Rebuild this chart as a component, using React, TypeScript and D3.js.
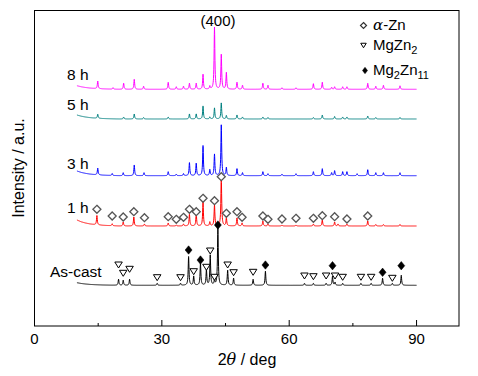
import React from "react";
import * as d3 from "d3";

// ---- data (2θ in deg, intensities in arbitrary units) ----
const seriesNames = ["As-cast", "1 h", "3 h", "5 h", "8 h"];
const seriesColors = ["#000000", "#ff0000", "#0000ff", "#008080", "#ff00ff"];
const seriesOffsets = [40.7, 100, 150.3, 207, 236.7];
const seriesBgStart = [2.6, 6, 4.7, 4, 3.6];

const bgAngles = [10, 11, 12, 13, 14, 16, 18, 20, 90];
const bgFactors = [1, 0.7, 0.5, 0.35, 0.25, 0.12, 0.05, 0, 0];

const peaksAsCast: [number, number][] = [
  [19.8, 6], [20.9, 5], [22.4, 6], [28.9, 2], [34.4, 2], [36.3, 28.6], [37.5, 9],
  [39.1, 22], [40.5, 15], [41.4, 30], [42.4, 5], [43.2, 57], [45.5, 15], [46.9, 7],
  [51.5, 6], [54.4, 14], [63.6, 2], [65.7, 2], [68.7, 2], [70.2, 9], [70.8, 3],
  [72.6, 2], [76.9, 2], [79.3, 2], [82.0, 7], [84.3, 2], [86.4, 10],
];
const peaks1h: [number, number][] = [
  [14.7, 9.3], [18.3, 2], [20.9, 4], [23.4, 9], [25.9, 2], [31.5, 3], [33.4, 1],
  [35.1, 2], [36.5, 11.7], [38.1, 12], [39.7, 23.7], [41.3, 4], [42.4, 21], [44.0, 49],
  [45.2, 8], [47.7, 8], [48.9, 3], [53.8, 5], [55.0, 2], [58.3, 1], [61.6, 1],
  [65.7, 2], [67.8, 6], [70.7, 4], [71.5, 2], [73.6, 2], [78.5, 5], [80.4, 1.5],
  [82.2, 1.5], [86.1, 1.5],
];
const peaks3h: [number, number][] = [
  [14.9, 6.7], [18.3, 2], [20.9, 3], [23.5, 10.7], [25.8, 3], [31.5, 4], [33.4, 1.5],
  [35.1, 2], [36.5, 13], [38.1, 12.4], [39.7, 30], [41.3, 6], [42.4, 21.4], [44.0, 50.7],
  [45.2, 8], [47.7, 7], [49.0, 3], [53.8, 4], [55.0, 2], [58.3, 1.5], [61.6, 2],
  [65.7, 4], [67.8, 7], [70.0, 3], [70.7, 5], [72.6, 4], [73.6, 4], [76.0, 2],
  [78.5, 6], [80.4, 3], [82.2, 3], [86.1, 3],
];
const peaks5h: [number, number][] = [
  [14.9, 4], [21.0, 2], [23.5, 5], [25.7, 1.5], [31.5, 2], [36.5, 5], [38.1, 5],
  [39.7, 13], [41.3, 2], [42.4, 11], [44.0, 16], [45.2, 3.5], [47.7, 4], [49.0, 2],
  [53.8, 2], [55.0, 1.5], [65.7, 1.5], [67.8, 4], [70.7, 2.5], [72.6, 2], [73.6, 2],
  [78.5, 3], [80.4, 1.5], [86.1, 1.5],
];
const peaks8h: [number, number][] = [
  [14.9, 7.6], [18.5, 1.5], [21.0, 6], [23.5, 10], [25.7, 3], [31.5, 7], [33.4, 2.5],
  [35.1, 3], [36.5, 6], [38.1, 6], [39.7, 15], [41.3, 3], [42.4, 62], [44.0, 34.6],
  [45.2, 16.6], [47.7, 7], [49.0, 4], [53.8, 6], [55.0, 4], [58.3, 1.5], [61.6, 1.5],
  [65.7, 5.6], [67.8, 7], [70.0, 2], [70.7, 2.5], [72.6, 2.5], [73.6, 2.5], [78.5, 6],
  [80.4, 3], [82.2, 4], [86.1, 3.5],
];
const seriesPeaks = [peaksAsCast, peaks1h, peaks3h, peaks5h, peaks8h];

// phase markers: [2θ, height above the series baseline]
const alphaZn1h: [number, number][] = [
  [14.7, 16.7], [18.3, 10], [20.9, 9], [23.4, 14.3], [25.9, 8.3], [31.5, 9.3],
  [33.4, 6.7], [35.1, 8.7], [36.5, 16.7], [38.1, 14.3], [39.7, 27.7], [42.4, 25.3],
  [44.0, 49.3], [45.2, 12.7], [47.7, 14.3], [48.9, 8.7], [53.8, 10], [55.0, 6.7],
  [58.3, 7], [61.6, 7.7], [65.7, 7.7], [67.8, 10.3], [70.7, 9.3], [73.6, 7], [78.5, 10],
];
const mgZn2AsCast: [number, number][] = [
  [19.8, 20.3], [20.9, 12], [22.4, 16], [28.9, 7.6], [34.4, 7.6], [37.5, 13.6],
  [40.5, 18], [41.4, 34.3], [42.4, 8], [45.5, 20.3], [46.9, 12.6], [51.5, 13],
  [63.6, 9.3], [65.7, 8.6], [68.7, 9.3], [70.8, 9.3], [72.6, 8], [76.9, 8], [79.3, 8], [84.3, 7],
];
const mg2Zn11AsCast: [number, number][] = [
  [36.3, 35.3], [39.1, 25.3], [43.2, 60.3], [54.4, 20.3], [70.2, 19.6], [82.0, 13], [86.4, 19.6],
];

const xMajorTicks = [0, 30, 60, 90];
const xMinorTicks = [15, 45, 75];
const xDomain = [0, 100];
const scanRange = [10, 90];

const FONT = "Arial, 'Liberation Sans', Helvetica, sans-serif";

const xScale = d3.scaleLinear().domain(xDomain).range([34.5, 459]);
const yScale = d3.scaleLinear().domain([0, 316]).range([326, 10]);
const bgScale = d3.scaleLinear().domain(bgAngles).range(bgFactors).clamp(true);

const HW = 0.11;

function buildSeries(peaks: [number, number][], offset: number, bg: number) {
  const xs: number[] = d3.range(scanRange[0], scanRange[1] + 1e-9, 0.04);
  peaks.forEach(([p]) => xs.push(p));
  xs.sort((a, b) => a - b);
  return xs.map((x) => {
    let v = offset + bg * bgScale(x);
    for (const [p, h] of peaks) {
      const t = (x - p) / HW;
      v += h / (1 + t * t);
    }
    return [x, v] as [number, number];
  });
}

const line = d3
  .line<[number, number]>()
  .x((d) => xScale(d[0]))
  .y((d) => yScale(d[1]));

function diamond(cx: number, cy: number, rx: number, ry: number) {
  return `M${cx},${cy - ry}L${cx + rx},${cy}L${cx},${cy + ry}L${cx - rx},${cy}Z`;
}
function triDown(cx: number, cy: number, w: number, h: number) {
  return `M${cx - w / 2},${cy - h / 2}L${cx + w / 2},${cy - h / 2}L${cx},${cy + h / 2}Z`;
}

const labelPos: [number, number][] = [
  [50, 277],
  [67, 213],
  [67, 168.5],
  [67, 110],
  [67, 80],
];

export default function App() {
  const data = seriesPeaks.map((pk, i) => buildSeries(pk, seriesOffsets[i], seriesBgStart[i]));
  const drawOrder = [0, 2, 1, 3, 4];
  return (
    <svg width={478} height={376} style={{ position: "absolute", left: 0, top: 0, background: "#fff" }}>
      <rect x={0} y={0} width={478} height={376} fill="#fff" />
      {drawOrder.map((i) => (
        <path key={i} d={line(data[i]) || ""} fill="none" stroke={seriesColors[i]} strokeWidth={1} strokeLinejoin="round" />
      ))}
      {/* frame */}
      <rect x={34.5} y={10.5} width={424.5} height={315.5} fill="none" stroke="#000" strokeWidth={1} />
      {xMajorTicks.map((t) => (
        <g key={"M" + t}>
          <line x1={xScale(t)} x2={xScale(t)} y1={326} y2={320} stroke="#000" />
          <text x={xScale(t)} y={344} textAnchor="middle" fontFamily={FONT} fontSize={15}>
            {t}
          </text>
        </g>
      ))}
      {xMinorTicks.map((t) => (
        <line key={"m" + t} x1={xScale(t)} x2={xScale(t)} y1={326} y2={323} stroke="#000" />
      ))}
      {/* markers */}
      {alphaZn1h.map(([a, h], k) => (
        <path key={"a" + k} d={diamond(xScale(a), yScale(seriesOffsets[1] + h), 4, 4)} fill="#fff" stroke="#555" strokeWidth={1.3} />
      ))}
      {mgZn2AsCast.map(([a, h], k) => (
        <path key={"t" + k} d={triDown(xScale(a), yScale(seriesOffsets[0] + h), 7.5, 6)} fill="#fff" stroke="#000" strokeWidth={1} />
      ))}
      {mg2Zn11AsCast.map(([a, h], k) => (
        <path key={"d" + k} d={diamond(xScale(a), yScale(seriesOffsets[0] + h), 3.5, 4.2)} fill="#000" stroke="#000" strokeWidth={0.5} />
      ))}
      {/* series labels */}
      {seriesNames.map((n, i) => (
        <text key={n} x={labelPos[i][0]} y={labelPos[i][1]} fontFamily={FONT} fontSize={15.5} fill="#000">
          {n}
        </text>
      ))}
      <text x={218} y={26} textAnchor="middle" fontFamily={FONT} fontSize={15}>
        (400)
      </text>
      {/* legend */}
      <path d={diamond(363.5, 25.5, 3, 3)} fill="#fff" stroke="#333" strokeWidth={1.2} />
      <text x={373} y={30} fontFamily={FONT} fontSize={15}>
        <tspan fontStyle="italic" fontFamily="'DejaVu Serif', serif">α</tspan>-Zn
      </text>
      <path d={triDown(363.5, 45.5, 5.5, 4.5)} fill="#fff" stroke="#000" strokeWidth={1} />
      <text x={373} y={49.5} fontFamily={FONT} fontSize={15}>
        MgZn<tspan fontSize={11} dy={4}>2</tspan>
      </text>
      <path d={diamond(365, 70.5, 2.5, 3.2)} fill="#000" stroke="#000" strokeWidth={0.5} />
      <text x={373} y={75} fontFamily={FONT} fontSize={15}>
        Mg<tspan fontSize={11} dy={4}>2</tspan>
        <tspan dy={-4}>Zn</tspan>
        <tspan fontSize={11} dy={4}>11</tspan>
      </text>
      {/* axis titles */}
      <text x={247} y={365} textAnchor="middle" fontFamily={FONT} fontSize={16}>
        2<tspan fontStyle="italic" fontFamily="'DejaVu Serif', serif">θ</tspan> / deg
      </text>
      <text transform="translate(24,168) rotate(-90)" textAnchor="middle" fontFamily={FONT} fontSize={16}>
        Intensity / a.u.
      </text>
    </svg>
  );
}
